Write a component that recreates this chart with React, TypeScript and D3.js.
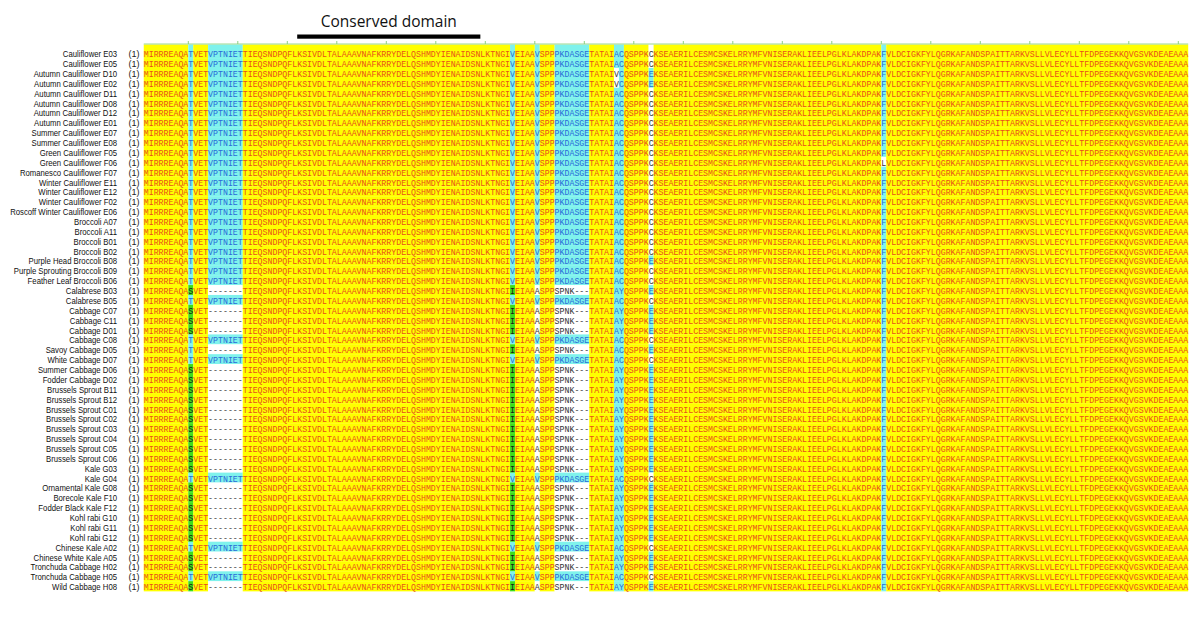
import React from "react";
import * as d3 from "d3";

const names = [
  "Cauliflower E03", "Cauliflower E05", "Autumn Cauliflower D10", "Autumn Cauliflower E02",
  "Autumn Cauliflower D11", "Autumn Cauliflower D08", "Autumn Cauliflower D12", "Autumn Cauliflower E01",
  "Summer Cauliflower E07", "Summer Cauliflower E08", "Green Cauliflower F05", "Green Cauliflower F06",
  "Romanesco Cauliflower F07", "Winter Cauliflower E11", "Winter Cauliflower E12", "Winter Cauliflower F02",
  "Roscoff Winter Cauliflower E06", "Broccoli A07", "Broccoli A11", "Broccoli B01", "Broccoli B02",
  "Purple Head Broccoli B08", "Purple Sprouting Broccoli B09", "Feather Leaf Broccoli B06",
  "Calabrese B03", "Calabrese B05", "Cabbage C07", "Cabbage C11", "Cabbage D01", "Cabbage C08",
  "Savoy Cabbage D05", "White Cabbage D07", "Summer Cabbage D06", "Fodder Cabbage D02",
  "Brussels Sprout B11", "Brussels Sprout B12", "Brussels Sprout C01", "Brussels Sprout C02",
  "Brussels Sprout C03", "Brussels Sprout C04", "Brussels Sprout C05", "Brussels Sprout C06",
  "Kale G03", "Kale G04", "Ornamental Kale G08", "Borecole Kale F10", "Fodder Black Kale F12",
  "Kohl rabi G10", "Kohl rabi G11", "Kohl rabi G12", "Chinese Kale A02", "Chinese White Kale A05",
  "Tronchuda Cabbage H02", "Tronchuda Cabbage H05", "Wild Cabbage H08",
];

// L = long allele (with VPTNIET insertion), S = short allele
const rowType = [
  "L", "L", "L", "L", "L", "L", "L", "L", "L", "L", "L", "L", "L", "L", "L", "L", "L",
  "L", "L", "L", "L", "L", "L", "L", "S", "L", "S", "S", "S", "L", "S", "L",
  "S", "S", "S", "S", "S", "S", "S", "S", "S", "S", "S", "L", "S", "S", "S",
  "S", "S", "S", "L", "S", "S", "L", "S",
];

const longSeq =
  "MIRRREAQATVETVPTNIETTIEQSNDPQFLKSIVDLTALAAAVNAFKRRYDELQSHMDYIENAIDSNLKTNGIVEIAAVSPPPKDASGETATAIACQSPPKCKSEAERILCESMCSKELRRYMFVNISERAKLIEELPGLKLAKDPAKFVLDCIGKFYLQGRKAFANDSPAITTARKVSLLVLECYLLTFDPEGEKKQVGSVKDEAEAAA";
const shortSeq =
  "MIRRREAQASVET-------TIEQSNDPQFLKSIVDLTALAAAVNAFKRRYDELQSHMDYIENAIDSNLKTNGIIEIAAASPPSPNK---TATAIAYQSPPKEKSEAERILCESMCSKELRRYMFVNISERAKLIEELPGLKLAKDPAKFVLDCIGKFYLQGRKAFANDSPAITTARKVSLLVLECYLLTFDPEGEKKQVGSVKDEAEAAA";

// individual residue differences: [row, column index, residue]
const edits: [number, number, string][] = [
  [2, 95, "V"], [2, 102, "E"],
  [3, 95, "V"], [3, 102, "E"],
  [21, 102, "E"],
  [30, 9, "T"], [30, 96, "C"],
  [11, 149, "L"],
];

// residues shown as conserved although they differ from the majority residue
const conservedAlso: [number, string][] = [[96, "Y"]];

const domainCols = [31, 68];
const title = "Conserved domain";

const similarGroups = ["ST", "ILVM", "FYW", "KR", "DE", "NQ"];

const COLORS: Record<string, { bg: string; fg: string }> = {
  ident: { bg: "#ffff00", fg: "#e8501c" },
  cons: { bg: "#7ff2ec", fg: "#2a6ad8" },
  sim: { bg: "#3edc1c", fg: "#1a1a1a" },
  none: { bg: "#ffffff", fg: "#333333" },
  gap: { bg: "#ffffff", fg: "#444444" },
};

export default function App() {
  const nCols = longSeq.length;
  const cw = 4.95;
  const x0 = 143.75;
  const rowH = 9.87;
  const top = 48.2;
  const x = d3.scaleLinear().domain([0, nCols]).range([x0, x0 + nCols * cw]);
  const y = d3
    .scaleBand<string>()
    .domain(names)
    .range([top, top + names.length * rowH]);

  const seqs = names.map((_, i) => {
    const s = (rowType[i] === "L" ? longSeq : shortSeq).split("");
    edits.filter((e) => e[0] === i).forEach((e) => (s[e[1]] = e[2]));
    return s;
  });

  const consensus = d3.range(nCols).map((c) => {
    const counts = d3.rollups(seqs, (v) => v.length, (s) => s[c]);
    counts.sort((a, b) => b[1] - a[1]);
    return { res: counts[0][0], all: counts.length === 1 };
  });

  const classOf = (ch: string, c: number) => {
    const k = consensus[c];
    if (k.all) return "ident";
    if (ch === "-") return "gap";
    if (ch === k.res) return "cons";
    if (conservedAlso.some((e) => e[0] === c && e[1] === ch)) return "cons";
    if (similarGroups.some((g) => g.includes(ch) && g.includes(k.res))) return "sim";
    return "none";
  };

  const rows = seqs.map((s, i) => {
    const runs: { start: number; end: number; cls: string; text: string }[] = [];
    s.forEach((ch, c) => {
      const cls = classOf(ch, c);
      const last = runs[runs.length - 1];
      if (last && last.cls === cls) {
        last.end = c + 1;
        last.text += ch;
      } else runs.push({ start: c, end: c + 1, cls, text: ch });
    });
    return { name: names[i], runs };
  });

  const ticks = d3.range(10, nCols + 1, 10);

  return (
    <svg
      width={1200}
      height={621}
      style={{ position: "absolute", left: 0, top: 0, background: "#fff" }}
    >
      <text
        x={(x(domainCols[0]) + x(domainCols[1])) / 2}
        y={27}
        textAnchor="middle"
        fontFamily="'Open Sans', sans-serif"
        fontSize={15.5}
        fill="#111"
      >
        {title}
      </text>
      <rect
        x={x(domainCols[0])}
        y={34.5}
        width={x(domainCols[1]) - x(domainCols[0])}
        height={4.2}
        fill="#000"
      />

      {rows.map((r, i) =>
        r.runs.map((run, j) => (
          <rect
            key={`b${i}-${j}`}
            x={x(run.start)}
            y={i === 0 ? 44.5 : (y(r.name) as number)}
            width={x(run.end) - x(run.start)}
            height={i === 0 ? (y(r.name) as number) + rowH - 44.5 : rowH + 0.3}
            fill={COLORS[run.cls].bg}
          />
        ))
      )}

      <line x1={x(0)} x2={x(nCols)} y1={44} y2={44} stroke="#9bd88f" strokeWidth={1} />
      {ticks.map((t) => (
        <line key={t} x1={x(t - 1)} x2={x(t - 1)} y1={41} y2={44} stroke="#8ccf80" strokeWidth={1} />
      ))}

      {rows.map((r, i) => {
        const yb = (y(r.name) as number) + 9.0;
        return (
          <g key={`t${i}`}>
            <text
              transform={`translate(117,${yb}) scale(0.9,1)`}
              textAnchor="end"
              fontFamily="'Liberation Sans', Arial, sans-serif"
              fontSize={8.6}
              fill="#111"
            >
              {r.name}
            </text>
            <text
              x={128.5}
              y={yb}
              fontFamily="'Liberation Sans', Arial, sans-serif"
              fontSize={9}
              fill="#222"
            >
              (1)
            </text>
            {r.runs.map((run, j) => (
              <text
                key={j}
                x={x(run.start)}
                y={yb}
                fontFamily="'Liberation Mono', 'Courier New', monospace"
                fontSize={8.25}
                textLength={x(run.end) - x(run.start)}
                lengthAdjust="spacing"
                fill={COLORS[run.cls].fg}
                xmlSpace="preserve"
              >
                {run.text}
              </text>
            ))}
          </g>
        );
      })}
    </svg>
  );
}
